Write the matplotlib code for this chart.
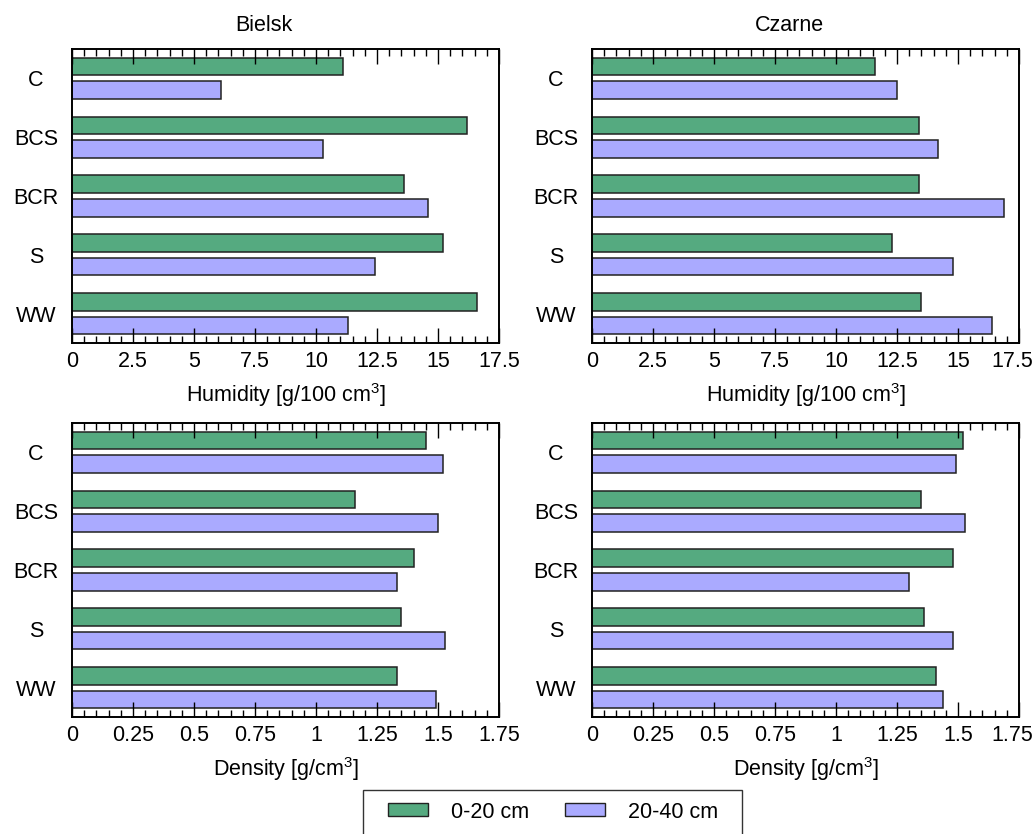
import matplotlib
matplotlib.use("Agg")
import matplotlib.pyplot as plt
import matplotlib.transforms as mtransforms
import numpy as np
from matplotlib.patches import Patch, Rectangle
from matplotlib.ticker import MultipleLocator

# ── Data ──────────────────────────────────────────────────────────────────
TREATMENTS = ["C", "BCS", "BCR", "S", "WW"]
DEPTHS = ["0-20 cm", "20-40 cm"]

HUM_BIELSK_0_20 = [11.1, 16.2, 13.6, 15.2, 16.6]
HUM_BIELSK_20_40 = [6.1, 10.3, 14.6, 12.4, 11.3]
HUM_CZARNE_0_20 = [11.6, 13.4, 13.4, 12.3, 13.5]
HUM_CZARNE_20_40 = [12.5, 14.2, 16.9, 14.8, 16.4]

DEN_BIELSK_0_20 = [1.45, 1.16, 1.40, 1.35, 1.33]
DEN_BIELSK_20_40 = [1.52, 1.50, 1.33, 1.53, 1.49]
DEN_CZARNE_0_20 = [1.52, 1.35, 1.48, 1.36, 1.41]
DEN_CZARNE_20_40 = [1.49, 1.53, 1.30, 1.48, 1.44]

SITES = ["Bielsk", "Czarne"]

# ── Style ─────────────────────────────────────────────────────────────────
GREEN = "#55aa80"
PURPLE = "#aaaaff"
EDGE = "#222222"

plt.rcParams.update({
    "font.family": ["Liberation Sans", "DejaVu Sans"],
    "font.size": 15.5,
    "mathtext.fontset": "custom",
    "mathtext.rm": "Liberation Sans",
    "mathtext.it": "Liberation Sans:italic",
    "mathtext.bf": "Liberation Sans:bold",
})

FW, FH = 1036, 834
fig = plt.figure(figsize=(FW / 100, FH / 100), dpi=100)

W = 427 / FW
H = 294 / FH
LEFTS = [72 / FW, 592 / FW]
BOTTOMS = [1 - 343 / FH, 1 - 717 / FH]

panels = [
    # (row, col, series_a, series_b, xmax, major, minor, xlabel)
    (0, 0, HUM_BIELSK_0_20, HUM_BIELSK_20_40, 17.5, 2.5, 0.5, "Humidity [g/100 cm$^{3}$]"),
    (0, 1, HUM_CZARNE_0_20, HUM_CZARNE_20_40, 17.5, 2.5, 0.5, "Humidity [g/100 cm$^{3}$]"),
    (1, 0, DEN_BIELSK_0_20, DEN_BIELSK_20_40, 1.75, 0.25, 0.05, "Density [g/cm$^{3}$]"),
    (1, 1, DEN_CZARNE_0_20, DEN_CZARNE_20_40, 1.75, 0.25, 0.05, "Density [g/cm$^{3}$]"),
]

y = np.arange(len(TREATMENTS))
bar_h = 0.3
# right-column panels: last tick label pulled inside the image edge
edge_shift = mtransforms.ScaledTranslation(-0.07, 0, fig.dpi_scale_trans)

for row, col, a, b, xmax, major, minor, xlabel in panels:
    ax = fig.add_axes([LEFTS[col], BOTTOMS[row], W, H])
    ax.barh(y - 0.2, a, height=bar_h, color=GREEN, edgecolor=EDGE, linewidth=1.1)
    ax.barh(y + 0.2, b, height=bar_h, color=PURPLE, edgecolor=EDGE, linewidth=1.1)

    ax.set_xlim(0, xmax)
    ax.set_ylim(len(TREATMENTS) - 0.5, -0.5)
    ax.xaxis.set_minor_locator(MultipleLocator(minor))
    ticks = np.arange(0, xmax + major / 2, major)
    ax.set_xticks(ticks)
    ax.set_xticklabels([f"{t:g}" for t in ticks])
    ax.tick_params(axis="x", which="both", direction="in", top=True, bottom=True,
                   width=1.0, color="black", pad=6)
    ax.tick_params(axis="x", which="major", length=10.5)
    ax.tick_params(axis="x", which="minor", length=4.8)
    if col == 1:
        last = ax.get_xticklabels()[-1]
        last.set_transform(last.get_transform() + edge_shift)

    ax.set_yticks(y)
    ax.set_yticklabels(TREATMENTS, ha="center")
    ax.tick_params(axis="y", length=0, pad=26)

    for sp in ax.spines.values():
        sp.set_linewidth(1.4)
        sp.set_color("black")

    ax.set_xlabel(xlabel, labelpad=6)
    if row == 0:
        ax.text(0.382, 1.045, SITES[col], transform=ax.transAxes,
                ha="left", va="bottom")

# ── Legend (box runs off the bottom edge, as in the reference) ───────────
handles = [Patch(facecolor=GREEN, edgecolor=EDGE, linewidth=1.0),
           Patch(facecolor=PURPLE, edgecolor=EDGE, linewidth=1.0)]
fig.legend(handles, DEPTHS, ncol=2, loc="center",
           bbox_to_anchor=(553 / FW, 1 - 812 / FH),
           frameon=False, borderaxespad=0, borderpad=0,
           handlelength=1.85, handleheight=0.55,
           handletextpad=1.05, columnspacing=1.7)
fig.patches.append(Rectangle((363 / FW, -0.05), (742 - 363) / FW, 0.05 + 1 - 790 / FH,
                             transform=fig.transFigure, fill=False,
                             edgecolor="#333333", linewidth=1.0))

fig.savefig("out.png", dpi=100)
